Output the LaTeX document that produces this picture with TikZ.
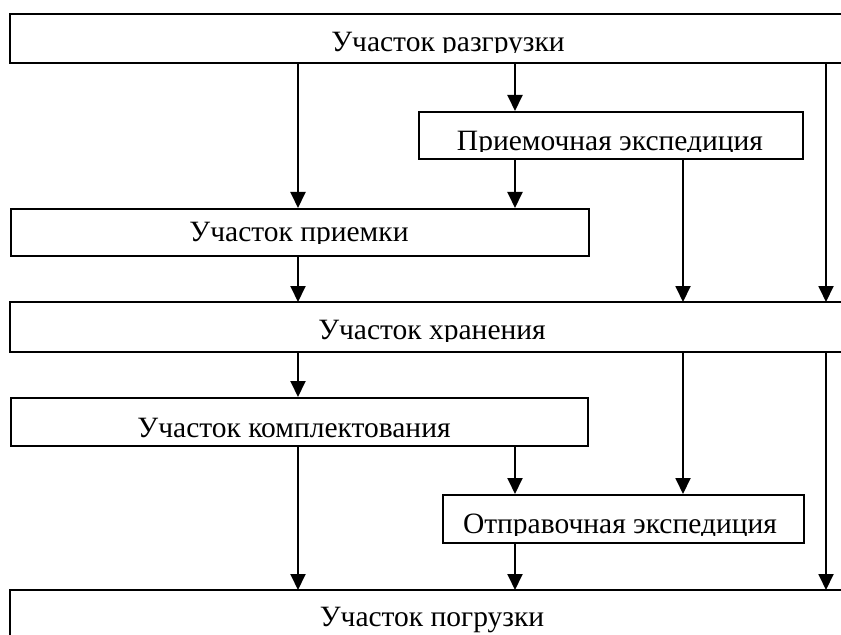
\documentclass[tikz,border=0pt]{standalone}
\usepackage{fontspec}
\setmainfont{Liberation Serif}
\usetikzlibrary{arrows.meta}
\begin{document}
\begin{tikzpicture}[x=1bp,y=-1bp,
  frame/.style={rectangle, inner sep=0pt, anchor=north west, line width=1.9bp},
  openframe/.style={line width=1.9bp, line join=miter},
  flow/.style={line width=1.9bp, -{Triangle[width=15bp,length=16bp]}},
  lbl/.style={inner sep=0pt, anchor=base, font=\fontsize{29.5bp}{32bp}\selectfont}]
\useasboundingbox (0,0) rectangle (841,635);

% flow columns
\coordinate (cA) at (298,0);
\coordinate (cB) at (515,0);
\coordinate (cC) at (683,0);
\coordinate (cD) at (826,0);

% areas
\node[frame, minimum width=831bp, minimum height=47bp] (b1) at (10,14) {};
\node[frame, draw, minimum width=384bp, minimum height=47bp] (b2) at (418,111) {};
\node[frame, draw, minimum width=578bp, minimum height=47bp] (b3) at (10,208) {};
\node[frame, minimum width=831bp, minimum height=48bp] (b4) at (10,302) {};
\node[frame, draw, minimum width=577bp, minimum height=48bp] (b5) at (10,397) {};
\node[frame, draw, minimum width=361bp, minimum height=48bp] (b6) at (442,494) {};
\node[frame, minimum width=831bp, minimum height=60bp] (b7) at (10,590) {};

\draw[openframe] (b1.north east) -- (b1.north west) -- (b1.south west) -- (b1.south east);
\draw[openframe] (b4.north east) -- (b4.north west) -- (b4.south west) -- (b4.south east);
\draw[openframe] (b7.north east) -- (b7.north west) -- (b7.south west);

% labels, cut at the lower edge of each text field
\begin{scope}
  \clip (b1.north west) rectangle (841,53);
  \node[lbl] (t1) at (448,51.5) {Участок разгрузки};
\end{scope}
\begin{scope}
  \clip (b2.north west) rectangle (b2.east |- 0,152);
  \node[lbl] (t2) at (610,150.5) {Приемочная экспедиция};
\end{scope}
\begin{scope}
  \clip (b3.north west) rectangle (b3.east |- 0,243);
  \node[lbl] (t3) at (299,241.5) {Участок приемки};
\end{scope}
\begin{scope}
  \clip (b4.north west) rectangle (841,341);
  \node[lbl] (t4) at (432,339.5) {Участок хранения};
\end{scope}
\node[lbl] (t5) at (294,437) {Участок комплектования};
\begin{scope}
  \clip (b6.north west) rectangle (b6.east |- 0,535);
  \node[lbl] (t6) at (620,533.5) {Отправочная экспедиция};
\end{scope}
\node[lbl] (t7) at (432,626.5) {Участок погрузки};

% material flows
\draw[flow] (b1.south -| cA) -- (b3.north -| cA);
\draw[flow] (b1.south -| cB) -- (b2.north -| cB);
\draw[flow] (b1.south -| cD) -- (b4.north -| cD);
\draw[flow] (b2.south -| cB) -- (b3.north -| cB);
\draw[flow] (b2.south -| cC) -- (b4.north -| cC);
\draw[flow] (b3.south -| cA) -- (b4.north -| cA);
\draw[flow] (b4.south -| cA) -- (b5.north -| cA);
\draw[flow] (b4.south -| cC) -- (b6.north -| cC);
\draw[flow] (b4.south -| cD) -- (b7.north -| cD);
\draw[flow] (b5.south -| cA) -- (b7.north -| cA);
\draw[flow] (b5.south -| cB) -- (b6.north -| cB);
\draw[flow] (b6.south -| cB) -- (b7.north -| cB);
\end{tikzpicture}
\end{document}
